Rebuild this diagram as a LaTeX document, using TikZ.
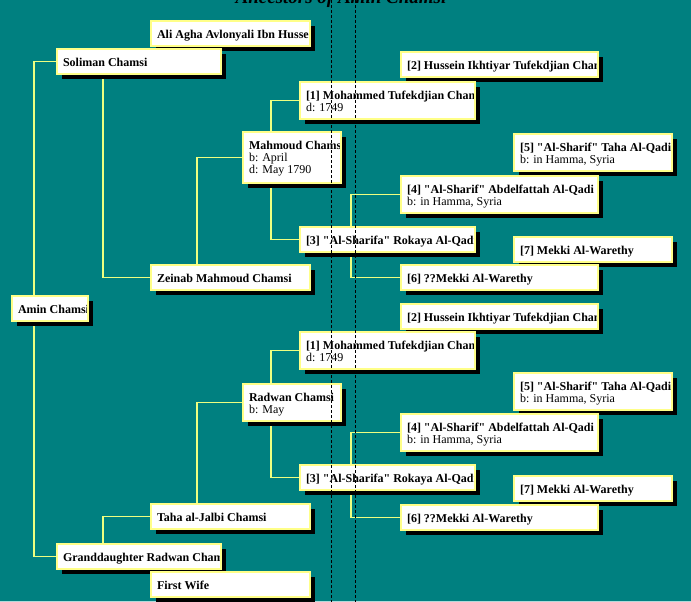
\documentclass[tikz,border=0pt]{standalone}
\usepackage{fontspec}
\setmainfont{Liberation Serif}[Ligatures=TeXOff]
\usetikzlibrary{calc,positioning,shadows}
\definecolor{bgteal}{HTML}{008080}
\definecolor{boxedge}{HTML}{FFFF88}
\definecolor{linkyel}{HTML}{EEFF80}
\pgfdeclarelayer{bg}
\pgfdeclarelayer{links}
\pgfsetlayers{bg,links,main}

% one person: name, x, y, width, height, text (clipped to the box)
\newcommand{\person}[6]{%
  \node[pbox, minimum width=#4pt, minimum height=#5pt,
    path picture={\node[ptext] (#1-txt) at ([shift={(6pt,-8.7pt)}]path picture bounding box.north west) {\strut #6};}]
    (#1) at (#2,#3) {};}

\begin{document}
\begin{tikzpicture}[x=1pt, y=-1pt,
  pbox/.style={draw=boxedge, line width=1.5pt, fill=white, anchor=north west, inner sep=0pt, outer sep=0pt,
    drop shadow={shadow xshift=5pt, shadow yshift=-5pt, fill=black, opacity=1}},
  ptext/.style={draw=none, fill=none, anchor=north west, inner sep=0pt, outer sep=0pt,
    minimum width=0pt, minimum height=0pt, align=left, text=black,
    font=\fontsize{12}{12.3}\selectfont},
  link/.style={draw=linkyel, line width=1.3pt},
  pagebreak/.style={draw=black, line width=0.8pt, dash pattern=on 3pt off 2pt},
  title/.style={anchor=base, inner sep=0pt, text=black, font=\fontsize{19}{22}\selectfont\bfseries\itshape}]
  \begin{pgfonlayer}{bg}
    \fill[bgteal] (0,0) rectangle (691,602);
    \fill[bgteal!30] (0,601) rectangle (691,602);
  \end{pgfonlayer}
  \useasboundingbox (0,0) rectangle (691,602);
  \clip (0,0) rectangle (691,602);

  \node[title] (title) at (341,3.5) {Ancestors of Amin Chamsi};

  % father's side
  \person{aliagha}{151}{21}{159}{25}{\textbf{Ali Agha Avlonyali Ibn Hussei}}
  \person{soliman}{57}{49}{164}{25}{\textbf{Soliman Chamsi}}
  \person{husseinA}{401}{52}{197}{25}{\textbf{[2] Hussein Ikhtiyar Tufekdjian Cham}}
  \person{mohammedA}{300}{82}{175}{37}{\textbf{[1] Mohammed Tufekdjian Cham}\\d: 1749}
  \person{mahmoud}{243}{132}{98}{51}{\textbf{Mahmoud Chamsi}\\b: April\\d: May 1790}
  \person{tahaA}{514}{134}{158}{37}{\textbf{[5] "Al-Sharif" Taha Al-Qadir}\\b: in Hamma, Syria}
  \person{abdelA}{401}{176}{197}{37}{\textbf{[4] "Al-Sharif" Abdelfattah Al-Qadi}\\b: in Hamma, Syria}
  \person{rokayaA}{300}{227}{175}{25}{\textbf{[3] "Al-Sharifa" Rokaya Al-Qadi}}
  \person{mekkiA}{514}{237}{158}{25}{\textbf{[7] Mekki Al-Warethy}}
  \person{zeinab}{151}{265}{159}{25}{\textbf{Zeinab Mahmoud Chamsi}}
  \person{mekkiAA}{401}{265}{197}{25}{\textbf{[6] ??Mekki Al-Warethy}}

  \person{amin}{12}{296}{76}{25}{\textbf{Amin Chamsi}}

  % mother's side
  \person{husseinB}{401}{304}{197}{25}{\textbf{[2] Hussein Ikhtiyar Tufekdjian Cham}}
  \person{mohammedB}{300}{332}{175}{37}{\textbf{[1] Mohammed Tufekdjian Cham}\\d: 1749}
  \person{tahaB}{514}{373}{158}{37}{\textbf{[5] "Al-Sharif" Taha Al-Qadir}\\b: in Hamma, Syria}
  \person{radwan}{243}{384}{98}{37}{\textbf{Radwan Chamsi}\\b: May}
  \person{abdelB}{401}{414}{197}{37}{\textbf{[4] "Al-Sharif" Abdelfattah Al-Qadi}\\b: in Hamma, Syria}
  \person{rokayaB}{300}{465}{175}{25}{\textbf{[3] "Al-Sharifa" Rokaya Al-Qadi}}
  \person{mekkiB}{514}{476}{158}{25}{\textbf{[7] Mekki Al-Warethy}}
  \person{taha}{151}{504}{159}{25}{\textbf{Taha al-Jalbi Chamsi}}
  \person{mekkiBB}{401}{505}{197}{25}{\textbf{[6] ??Mekki Al-Warethy}}
  \person{grand}{57}{544}{164}{25}{\textbf{Granddaughter Radwan Chams}}
  \person{wife}{151}{572}{159}{25}{\textbf{First Wife}}

  % connectors behind the boxes
  \begin{pgfonlayer}{links}
    \draw[link] ([xshift=22pt]amin.west) |- (soliman.west);
    \draw[link] ([xshift=22pt]amin.west) |- (grand.west);
    \draw[link] ([xshift=46pt]soliman.west) |- (zeinab.west);
    \draw[link] ([xshift=46pt]zeinab.west) |- (mahmoud.west);
    \draw[link] ([xshift=28pt]mahmoud.west) |- (mohammedA.west);
    \draw[link] ([xshift=28pt]mahmoud.west) |- (rokayaA.west);
    \draw[link] ([xshift=51pt]rokayaA.west) |- (abdelA.west);
    \draw[link] ([xshift=51pt]rokayaA.west) |- (mekkiAA.west);
    \draw[link] ([xshift=46pt]grand.west) |- (taha.west);
    \draw[link] ([xshift=46pt]taha.west) |- (radwan.west);
    \draw[link] ([xshift=28pt]radwan.west) |- (mohammedB.west);
    \draw[link] ([xshift=28pt]radwan.west) |- (rokayaB.west);
    \draw[link] ([xshift=51pt]rokayaB.west) |- (abdelB.west);
    \draw[link] ([xshift=51pt]rokayaB.west) |- (mekkiBB.west);
  \end{pgfonlayer}

  % page breaks
  \draw[pagebreak] (331.5,0) -- (331.5,602);
  \draw[pagebreak] (355.5,0) -- (355.5,602);
\end{tikzpicture}
\end{document}
